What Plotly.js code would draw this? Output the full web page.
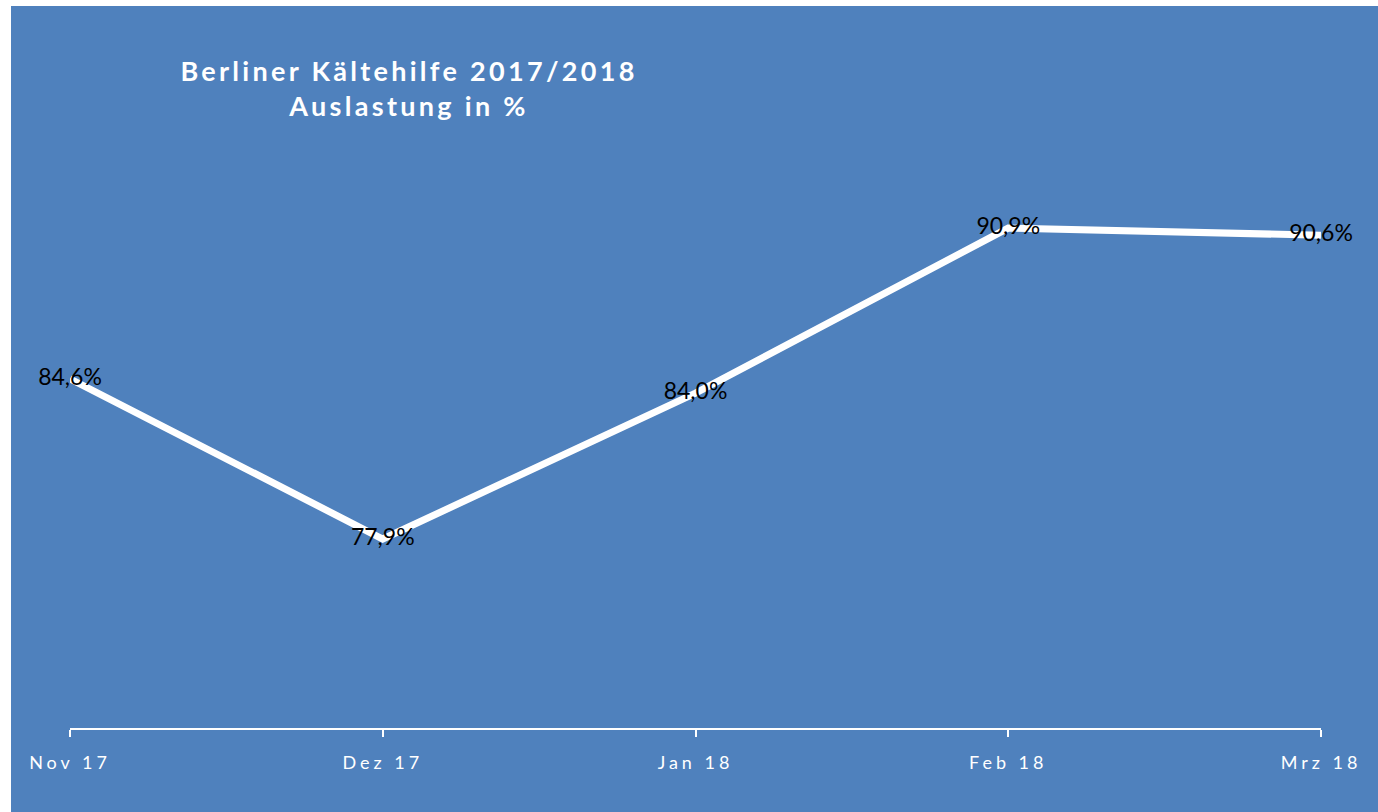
<!DOCTYPE html>
<html>
<head>
<meta charset="utf-8">
<script src="https://cdn.plot.ly/plotly-3.0.1.min.js"></script>
<style>
  html, body { margin: 0; padding: 0; background: #ffffff; overflow: hidden; }
  #chart { position: absolute; left: 11px; top: 6px; width: 1367px; height: 806px; }
  .xtick text { letter-spacing: 4px; }
  .gtitle { letter-spacing: 3.3px; }
</style>
</head>
<body>
<div id="chart"></div>
<script>
const categories = ["Nov 17", "Dez 17", "Jan 18", "Feb 18", "Mrz 18"];
const values = [84.6, 77.9, 84.0, 90.9, 90.6];
const valueLabels = ["84,6%", "77,9%", "84,0%", "90,9%", "90,6%"];
const titleLines = ["Berliner Kältehilfe 2017/2018", "Auslastung in %"];

const trace = {
  type: "scatter",
  mode: "lines+text",
  x: categories,
  y: values,
  text: valueLabels,
  textposition: "middle center",
  textfont: { family: "Lato, 'Open Sans', sans-serif", size: 23, color: "#000000" },
  line: { color: "#ffffff", width: 7 },
  hoverinfo: "skip",
  cliponaxis: false
};

const layout = {
  width: 1367,
  height: 806,
  paper_bgcolor: "#4F81BD",
  plot_bgcolor: "rgba(0,0,0,0)",
  margin: { l: 59, r: 57, t: 124, b: 84 },
  showlegend: false,
  title: {
    text: titleLines.join("<br>"),
    font: { family: "Lato, 'Open Sans', sans-serif", size: 27, color: "#ffffff", weight: "bold" },
    x: 398 / 1367,
    xanchor: "center",
    xref: "container",
    yref: "container",
    y: 1 - 75 / 806,
    yanchor: "top"
  },
  xaxis: {
    type: "category",
    range: [0, 4],
    showgrid: false,
    zeroline: false,
    showline: true,
    linecolor: "#ffffff",
    linewidth: 2,
    ticks: "outside",
    ticklen: 7,
    tickwidth: 2,
    tickcolor: "#ffffff",
    ticklabelstandoff: 10,
    tickfont: { family: "Lato, 'Open Sans', sans-serif", size: 18, color: "#ffffff" },
    fixedrange: true
  },
  yaxis: {
    range: [70, 95],
    visible: false,
    showgrid: false,
    zeroline: false,
    fixedrange: true
  }
};

Plotly.newPlot("chart", [trace], layout, { displayModeBar: false, staticPlot: true });
</script>
</body>
</html>
